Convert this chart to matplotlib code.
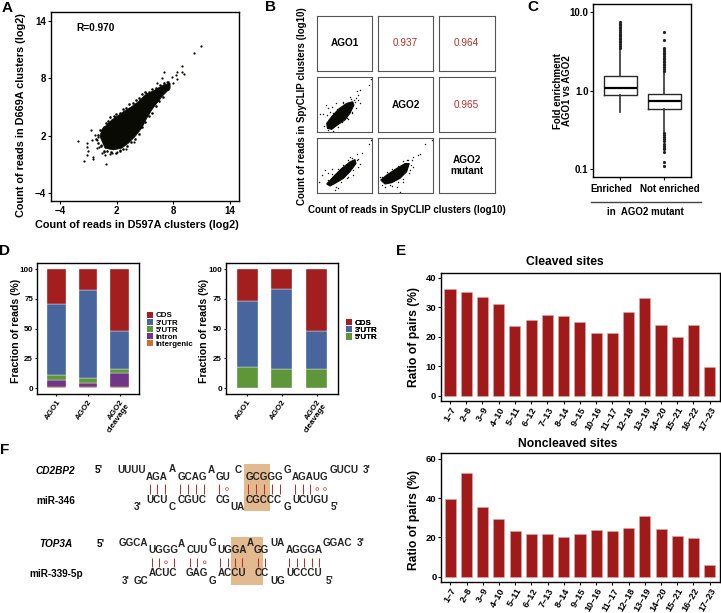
import matplotlib
matplotlib.use("Agg")
import matplotlib.pyplot as plt
from matplotlib.patches import Patch, Rectangle, Polygon

plt.rcParams['font.family'] = ['Liberation Sans', 'DejaVu Sans']
plt.rcParams['font.weight'] = 'bold'
plt.rcParams['axes.labelweight'] = 'bold'
plt.rcParams['axes.titleweight'] = 'bold'

W, H = 721, 613

# ---------- Panel A values
a_cloud_x = [0.21, 0.39, 0.92, 1.45, 1.98, 2.69, 3.58, 4.28, 4.99, 6.05, 6.94, 7.65, 7.65, 6.94, 6.23, 5.7, 5.17, 4.64, 3.93, 3.22, 2.51, 1.63, 0.74]
a_cloud_y = [1.9, 2.59, 3.11, 3.63, 3.98, 4.5, 5.03, 5.55, 6.24, 6.77, 7.29, 7.46, 6.94, 6.24, 5.37, 4.68, 3.81, 2.77, 1.9, 1.2, 0.68, 0.5, 0.68]
a_pts_x = [10.94, 10.16, 8.96, 8.42, 8.88, 9.13, 7.04, 8.25, 7.82, 8.35, 6.83, 6.23, 7.29, 7.93, 5.1, -0.78, -2.09, -1.49, 0.81, -1.13, -1.13, -1.1, -1.13, -0.5, -0.5, -0.67, -0.32, -0.14, 0.11, 0.39, 0.74, 1.27, -0.07, 1.81, 2.16, 2.76, 3.86, 2.97, 1.98, 4.46, 5.17, 1.1, 0.5, 0.05, 0.3, 0.65, 1.5, 2.3]
a_pts_y = [11.36, 10.59, 9.23, 8.68, 8.61, 8.43, 8.68, 8.33, 8.09, 7.95, 8.05, 7.46, 7.63, 7.53, 6.49, 2.63, 1.48, -0.68, -0.99, 1.27, 0.85, 0.43, 0.02, -0.19, -0.43, 1.55, 2.07, 1.55, 0.85, 0.16, -0.02, 0.09, 0.68, 3.98, 3.98, 4.4, 1.37, 0.57, 0.33, 3.11, 4.16, 3.22, 2.77, 1.9, 1.0, 0.3, 0.2, 0.45]
a_rim_x = [0.0, 0.2, 0.6, 0.8, 1.1, 1.3, 1.7, 1.9, 2.3, 2.6, 3.0, 3.3, 3.7, 4.0, 4.4, 4.7, 5.0, 5.4, 5.7, 6.2, 6.6, 7.0, 7.4, 7.4, 6.9, 6.5, 6.1, 5.7, 5.4, 5.0, 4.7, 4.3, 3.9, 3.5, 3.1, 2.7, 2.3, 1.9, 1.4, 1.0, 0.6, 0.3, 0.0, -0.2]
a_rim_y = [2.1, 2.6, 2.9, 3.3, 3.5, 3.9, 4.0, 4.3, 4.4, 4.8, 4.9, 5.3, 5.4, 5.7, 5.9, 6.3, 6.6, 6.6, 6.9, 7.0, 7.3, 7.5, 7.6, 6.9, 6.0, 5.6, 5.1, 4.4, 4.0, 3.4, 2.9, 2.2, 1.6, 1.3, 0.9, 0.6, 0.4, 0.2, 0.3, 0.4, 0.4, 0.9, 1.2, 1.6]
a_ticks = [-4, 2, 8, 14]
a_r_label = "R=0.970"

# ---------- Panel B values (log10 counts)
b_names = ["AGO1", "AGO2", "AGO2\nmutant"]
b_corr = {(0, 1): "0.937", (0, 2): "0.964", (1, 2): "0.965"}
b21_cloud_x = [0.96, 0.90, 1.35, 1.95, 2.69, 3.23, 3.35, 2.99, 2.54, 1.86, 1.35]
b21_cloud_y = [0.36, 0.81, 1.41, 2.07, 2.60, 2.75, 2.46, 1.71, 1.11, 0.66, 0.27]
b21_pts_x = [4.70, 4.85, 3.89, 3.59, 3.74, 3.53, 0.84, 1.05, 1.35, 0.3, 0.54, 0.9, 1.2, 1.74, 2.4, 3.0, 3.35, 3.74, 3.89, 1.05, 1.5, 2.69, 3.14, 0.7, 1.1, 1.5, 1.8, 2.1, 2.4, 3.1, 3.4, 3.5, 3.2, 2.8, 2.3, 1.9]
b21_pts_y = [4.25, 4.82, 3.80, 3.74, 3.35, 3.05, 2.46, 2.16, 2.31, 1.65, 1.65, 1.56, 1.86, 2.6, 2.75, 3.14, 2.9, 2.9, 2.6, 0.21, 0.15, 1.26, 1.86, 0.6, 1.2, 1.7, 2.1, 2.3, 2.6, 2.95, 2.7, 2.2, 1.7, 1.2, 0.9, 0.5]
b31_cloud_x = [0.9, 1.5, 2.25, 2.99, 3.44, 3.53, 2.99, 2.4, 1.65, 1.2]
b31_cloud_y = [0.84, 1.5, 2.25, 2.84, 3.05, 2.69, 1.95, 1.35, 0.9, 0.66]
b31_pts_x = [4.7, 4.85, 4.04, 3.65, 3.74, 0.45, 0.75, 1.05, 1.35, 0.21, 1.65, 1.95, 3.0, 3.29, 3.89, 3.74, 2.69, 1.0, 1.4, 1.9, 2.4, 2.8, 3.2, 3.6, 3.3, 2.8, 2.2, 1.7]
b31_pts_y = [4.43, 4.85, 3.65, 3.59, 3.14, 1.65, 2.1, 1.8, 2.16, 1.05, 0.3, 0.45, 3.29, 1.65, 2.69, 2.4, 1.35, 1.2, 1.7, 2.2, 2.6, 3.0, 3.2, 3.0, 2.1, 1.5, 1.0, 0.6]
b32_cloud_x = [0.27, 0.81, 1.71, 2.46, 2.84, 2.6, 2.0, 1.26, 0.66]
b32_cloud_y = [1.2, 1.65, 2.25, 2.69, 2.69, 1.95, 1.35, 0.96, 0.84]
b32_pts_x = [4.25, 4.85, 3.8, 3.65, 3.2, 3.05, 2.66, 2.0, 1.71, 0.66, 0.36, 2.9, 3.2, 0.21, 1.11, 2.31, 0.4, 0.8, 1.3, 1.8, 2.3, 2.7, 3.0, 2.8, 2.3, 1.8, 1.3]
b32_pts_y = [4.43, 4.85, 3.59, 3.44, 3.29, 2.99, 2.99, 0.15, 0.6, 0.6, 0.75, 2.1, 2.4, 1.5, 0.75, 1.05, 1.5, 1.9, 2.2, 2.5, 2.9, 3.0, 2.6, 1.8, 1.3, 1.0, 0.7]

# ---------- Panel C values
c_labels = ["Enriched", "Not enriched"]
c_q1 = [0.87, 0.585]
c_med = [1.09, 0.746]
c_q3 = [1.52, 0.916]
c_wlo = [0.54, 0.30]
c_whi = [3.45, 1.74]
c_fliers_enriched = [3.5, 3.7, 3.9, 4.1, 4.3, 4.5, 4.7, 4.9, 5.1, 5.3, 5.6, 5.9, 6.2, 6.5, 6.8, 7.1, 7.4]
c_fliers_not = [1.8, 1.9, 2.0, 2.1, 2.2, 2.3, 2.4, 2.5, 2.6, 2.75, 2.9, 3.05, 3.2, 3.35, 3.5, 4.4, 5.55,
                0.29, 0.275, 0.26, 0.245, 0.23, 0.21, 0.2, 0.19, 0.18, 0.168, 0.125, 0.11]

# ---------- Panel D values
d_groups = ["AGO1", "AGO2", "AGO2\ncleavage"]
d1_parts = ["Intergenic", "Intron", "5'UTR", "3'UTR", "CDS"]
d1_intergenic = [1, 1, 1]
d1_intron = [6, 3.5, 11.5]
d1_utr5 = [4.5, 4, 4]
d1_utr3 = [59.5, 73.5, 31.5]
d1_cds = [29, 18, 52]
d2_parts = ["5'UTR", "3'UTR", "CDS"]
d2_utr5 = [18, 16, 16.5]
d2_utr3 = [55.5, 67.5, 31.5]
d2_cds = [26.5, 16.5, 52]

# ---------- Panel E values
e_windows = ["1–7", "2–8", "3–9", "4–10", "5–11", "6–12", "7–13", "8–14", "9–15", "10–16", "11–17", "12–18", "13–19", "14–20", "15–21", "16–22", "17–23"]
e_cleaved = [36.3, 35, 33.6, 31.2, 23.6, 25.5, 27.4, 26.9, 25, 21.2, 21.2, 28.3, 33, 24, 19.8, 24, 9.8]
e_noncleaved = [39.5, 52.6, 35.6, 29.2, 23.4, 21.6, 21.5, 20, 21.6, 23.8, 23.2, 24.7, 31, 24.2, 20.6, 19.5, 6.2]

# ---------- Panel F text
f_line1 = ["UUUU", "AGA", "A", "GCAG", "A", "GU", "C", "GCGGG", "G", "AGAUG", "GUCU", "3'"]
f_line2 = ["3'", "UCU", "C", "CGUC", "CG", "UA", "CGCCC", "G", "UCUGU", "5'"]
f_line3 = ["GGCA", "UGGG", "A", "CUU", "G", "UGGA", "A", "GG", "UA", "AGGGA", "GGAC", "3'"]
f_line4 = ["3'", "GC", "ACUC", "GAG", "G", "ACCU", "CC", "UG", "UCCCU", "5'"]

COLS = {"CDS": '#a31f1f', "3'UTR": '#48659e', "5'UTR": '#5f9639', "Intron": '#6f3586', "Intergenic": '#d0702a'}

fig = plt.figure(figsize=(W / 100, H / 100), dpi=100)


def box(x0, y0, x1, y1):
    return fig.add_axes([x0 / W, 1 - y1 / H, (x1 - x0) / W, (y1 - y0) / H])


def lim(lo, hi, pa, va, pb, vb):
    k = (vb - va) / (pb - pa)
    return va + (lo - pa) * k, va + (hi - pa) * k


def style(ax, lw=0.9, ts=7, tl=2):
    for s in ax.spines.values():
        s.set_linewidth(lw)
    ax.tick_params(labelsize=ts, length=tl, width=0.8, pad=1.5)


over = fig.add_axes([0, 0, 1, 1], zorder=10)
over.set_xlim(0, W)
over.set_ylim(H, 0)
over.axis('off')


def T(x, y, s, size=7, **kw):
    kw.setdefault('ha', 'center')
    kw.setdefault('va', 'center')
    over.text(x, y, s, fontsize=size, **kw)


for (x, y, s) in [(6.7, 8, 'A'), (270, 7, 'B'), (533, 7, 'C'), (5, 250.7, 'D'), (401, 251, 'E'), (4.5, 450, 'F')]:
    T(x, y, s, size=11)

# ---------- A
ax = box(51, 12, 239, 201)
style(ax, 1.0)
ax.set_xlim(*lim(51, 239, 60.3, -4, 230, 14))
ax.set_ylim(*lim(201, 12, 193, -4, 20.7, 14))
ax.set_xticks(a_ticks)
ax.set_yticks(a_ticks)
ax.set_xticklabels([str(t).replace('-', '−') for t in a_ticks])
ax.set_yticklabels([str(t).replace('-', '−') for t in a_ticks])
ax.add_patch(Polygon(list(zip(a_cloud_x, a_cloud_y)), closed=True, fc='#0a0a05', ec='#0a0a05', lw=0.5))
ax.scatter(a_rim_x, a_rim_y, s=3.5, c='#0a0a05', lw=0)
ax.scatter(a_pts_x, a_pts_y, s=2.6, c='#0a0a05', lw=0)
T(76, 28, a_r_label, size=7.3, ha='left')
T(137, 225, "Count of reads in D597A clusters (log2)", size=7.8)
T(20.7, 115, "Count of reads in D669A clusters (log2)", size=7.8, rotation=90)

# ---------- B
xs = [(316.7, 372.3), (377.7, 433.3), (438.7, 494.5)]
ys = [(15.7, 71.3), (76.7, 132.3), (138, 193.3)]
clouds = {(1, 0): (b21_cloud_x, b21_cloud_y, b21_pts_x, b21_pts_y),
          (2, 0): (b31_cloud_x, b31_cloud_y, b31_pts_x, b31_pts_y),
          (2, 1): (b32_cloud_x, b32_cloud_y, b32_pts_x, b32_pts_y)}
for r in range(3):
    for c in range(3):
        ax = box(xs[c][0], ys[r][0], xs[c][1], ys[r][1])
        ax.set_xlim(0, 5)
        ax.set_ylim(0, 5)
        ax.set_xticks([])
        ax.set_yticks([])
        for s in ax.spines.values():
            s.set_linewidth(0.8)
            s.set_color('#555555')
        if r == c:
            ax.text(.5, .5, b_names[r], transform=ax.transAxes, ha='center', va='center', fontsize=7.2)
        elif (r, c) in b_corr:
            ax.text(.5, .5, b_corr[(r, c)], transform=ax.transAxes, ha='center', va='center',
                    fontsize=7.2, color='#b5302c', fontweight='normal')
        else:
            cx, cy, px, py = clouds[(r, c)]
            ax.add_patch(Polygon(list(zip(cx, cy)), closed=True, fc='#0a0a05', ec='#0a0a05', lw=0.8))
            ax.scatter(px, py, s=1.1, c='#1a1a1a', lw=0)
T(406.5, 210, "Count of reads in SpyCLIP clusters (log10)", size=7)
T(301.7, 106, "Count of reads in SpyCLIP clusters (log10)", size=7, rotation=90)

# ---------- C
ax = box(593.3, 4, 690.7, 177.3)
style(ax, 1.0)
ax.set_yscale('log')
ax.set_ylim(10 ** -1.099, 10 ** 1.1)
ax.set_xlim(0.39, 2.6)
stats = [dict(med=c_med[0], q1=c_q1[0], q3=c_q3[0], whislo=c_wlo[0], whishi=c_whi[0], fliers=c_fliers_enriched),
         dict(med=c_med[1], q1=c_q1[1], q3=c_q3[1], whislo=c_wlo[1], whishi=c_whi[1], fliers=c_fliers_not)]
ax.bxp(stats, positions=[1, 2], widths=0.75, showcaps=False,
       boxprops=dict(lw=1.0, color='#2a2a2a'), whiskerprops=dict(lw=1.2, color='#333333'),
       medianprops=dict(lw=1.6, color='black'),
       flierprops=dict(marker='o', ms=2.3, mfc='#222222', mec='#222222', mew=0))
ax.set_yticks([0.1, 1, 10])
ax.set_yticklabels(['0.1', '1.0', '10.0'])
ax.minorticks_off()
ax.set_xticks([1, 2])
ax.set_xticklabels(['', ''])
T(611.7, 189, c_labels[0])
T(670, 189, c_labels[1])
over.plot([590.7, 701], [201.7, 201.7], color='#444444', lw=1.0)
T(645.3, 212, "in  AGO2 mutant")
T(562.3, 90.7, "Fold enrichment\nAGO1 vs AGO2", rotation=90, linespacing=0.9, size=7)

# ---------- D
def stacked(ax, parts, series, width):
    bottom = [0] * len(d_groups)
    for name, vals in zip(parts, series):
        ax.bar(range(3), vals, bottom=bottom, width=width, color=COLS[name], edgecolor='white', lw=0.25)
        bottom = [b + v for b, v in zip(bottom, vals)]
    ax.set_xticks(range(3))
    ax.set_xticklabels(d_groups, rotation=55, ha='right', rotation_mode='anchor', fontsize=5.8, linespacing=0.9)
    ax.set_yticks([0, 25, 50, 75, 100])
    ax.set_ylim(*lim(394.3, 263, 388.3, 0, 269, 100))


ax = box(37.3, 263, 139, 394.3)
style(ax, 1.0, ts=5.8, tl=1.5)
stacked(ax, d1_parts, [d1_intergenic, d1_intron, d1_utr5, d1_utr3, d1_cds], 0.59)
ax.set_xlim(*lim(37.3, 139, 56.3, 0, 119.7, 2))
ax = box(226, 263, 338, 394.3)
style(ax, 1.0, ts=5.8, tl=1.5)
stacked(ax, d2_parts, [d2_utr5, d2_utr3, d2_cds], 0.605)
ax.set_xlim(*lim(226, 338, 247.2, 0, 316.7, 2))
T(15.7, 331, "Fraction of reads (%)", size=7.6, rotation=90)
T(204, 331, "Fraction of reads (%)", size=7.6, rotation=90)


def legend(parts, x, y):
    h = [Patch(fc=COLS[p], ec='none') for p in parts]
    leg = over.legend(h, parts, loc='upper left', bbox_to_anchor=(x, y), bbox_transform=over.transData,
                      frameon=False, fontsize=5.7, handlelength=0.8, handleheight=0.85, labelspacing=-0.1,
                      handletextpad=0.35, borderpad=0, borderaxespad=0)
    over.add_artist(leg)


legend(["CDS", "3'UTR", "5'UTR", "Intron", "Intergenic"], 146.7, 311.5)
legend(["CDS", "3'UTR", "5'UTR"], 345.7, 319)

# ---------- E
def bars(ax, vals, ticks):
    ax.bar(range(17), vals, width=0.68, color='#a01a1a', edgecolor='#dca9a9', lw=0.4)
    ax.set_xlim(*lim(441, 720, 450, 0, 709.7, 16))
    ax.set_xticks(range(17))
    ax.set_xticklabels(e_windows, rotation=60, ha='right', rotation_mode='anchor', fontsize=6.6)
    ax.set_yticks(ticks)


ax = box(441, 272.7, 720, 400.7)
style(ax, 1.0, ts=6.8)
bars(ax, e_cleaved, [0, 10, 20, 30, 40])
ax.set_ylim(*lim(400.7, 272.7, 395.7, 0, 277.7, 40))
ax = box(441.3, 453.3, 720, 581.7)
style(ax, 1.0, ts=6.8)
bars(ax, e_noncleaved, [0, 20, 40, 60])
ax.set_ylim(*lim(581.7, 453.3, 576.7, 0, 458.7, 60))
T(565.3, 262.3, "Cleaved sites", size=8.75)
T(567.3, 444, "Noncleaved sites", size=8.75)
T(414.3, 336.7, "Ratio of pairs (%)", size=8.7, rotation=90)
T(414.3, 520, "Ratio of pairs (%)", size=8.7, rotation=90)

# ---------- F
over.add_patch(Rectangle((244.3, 464), 25.7, 47, fc='#e3b98f', ec='none', zorder=0))
over.add_patch(Rectangle((231, 537), 31.7, 48, fc='#e3b98f', ec='none', zorder=0))

T(55.7, 470.7, "CD2BP2", style='italic', size=7.2)
T(56, 500.7, "miR-346", size=7.2)
T(99, 470, "5'", size=7.2)
T(55.7, 544.3, "TOP3A", style='italic', size=7.2)
T(55.7, 574, "miR-339-5p", size=7.2)
T(100.3, 543.7, "5'", size=7.2)

line1_xy = [(131.7, 470), (157, 476.7), (172, 469), (192.5, 476.7), (211.3, 470), (223, 476.7), (238, 470), (264, 476.7), (287.7, 470), (310, 476.7), (343.7, 470), (366.7, 470)]
line2_xy = [(137.7, 507.3), (157, 500), (172.3, 507.3), (192, 500), (223.3, 500), (237.3, 507.3), (264, 500), (287.7, 507.3), (310, 500), (335, 507.3)]
line3_xy = [(133, 543.3), (163, 550), (181, 543.7), (197, 550), (212.7, 543.3), (231.7, 550), (250, 543.3), (261.7, 550), (277.3, 543.3), (304, 550), (337.7, 543.3), (360.7, 543.3)]
line4_xy = [(125.7, 581), (140.7, 581), (163, 573.3), (197, 573.3), (212.7, 581), (231.7, 573.3), (261.7, 573.3), (277.3, 581), (304, 573.3), (330, 581)]
for seq, pos in [(f_line1, line1_xy), (f_line2, line2_xy), (f_line3, line3_xy), (f_line4, line4_xy)]:
    for s, (x, y) in zip(seq, pos):
        T(x, y, s, size=7.1, color='#222222')

pair1 = [150.3, 157.3, 164.7, 180.3, 188.3, 196, 203.7, 219, 248.3, 256.3, 264, 271.7, 279.7, 295, 302.7, 310]
wob1 = [227, 317.3, 325]
pair2 = [151.7, 158.7, 174, 189.7, 196.7, 220, 227.7, 235, 242.3, 257.7, 265.3, 288.7, 296.7, 304, 311.7, 318.7]
wob2 = [166, 204.7]
over.vlines(pair1, 484, 493.7, color='#b8302e', lw=0.75)
over.vlines(pair2, 557.7, 567, color='#b8302e', lw=0.75)
over.scatter(wob1, [489] * len(wob1), s=4, fc='none', ec='#c04040', lw=0.5)
over.scatter(wob2, [562.3] * len(wob2), s=4, fc='none', ec='#c04040', lw=0.5)

fig.savefig('out.png', dpi=100)
